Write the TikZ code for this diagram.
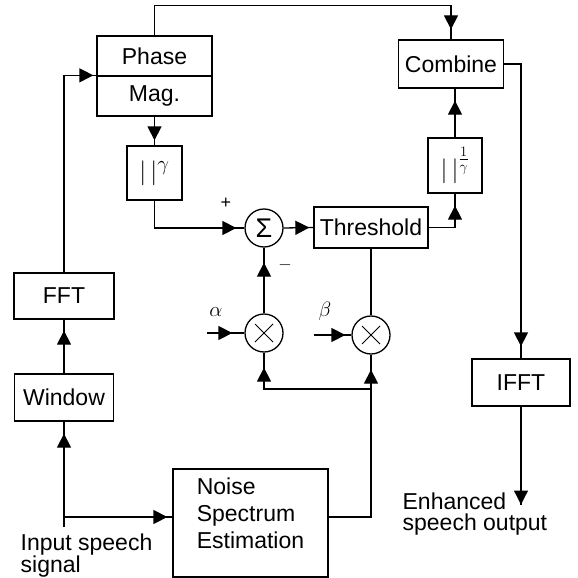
\documentclass[tikz,border=0pt]{standalone}
\usepackage{fontspec}
\setmainfont{Liberation Sans}
\usetikzlibrary{arrows.meta,decorations.markings}
\tikzset{
  blk/.style={draw,inner sep=0pt,font=\fontsize{23}{27}\selectfont},
  opnode/.style={draw,circle,minimum size=38pt,inner sep=0pt},
  mulnode/.style={opnode,path picture={
    \draw[line width=1pt] ([shift={(-9pt,-9pt)}]path picture bounding box.center) -- ([shift={(9pt,9pt)}]path picture bounding box.center)
      ([shift={(-9pt,9pt)}]path picture bounding box.center) -- ([shift={(9pt,-9pt)}]path picture bounding box.center);}},
  flowarr/.style={postaction={decorate},decoration={markings,
    mark=at position -#1 with {\arrow{Triangle[length=14pt,width=14pt]}}}},
  flowarr/.default=10pt,
  lbl/.style={font=\fontsize{23}{21}\selectfont,align=left,inner sep=0pt}
}

\begin{document}
\begin{tikzpicture}[x=1pt,y=-1pt,line width=1.3pt]
  \useasboundingbox (0,0) rectangle (578,578);
  % blocks
  \node[blk,minimum width=115pt,minimum height=40pt] (phase) at (154.5,56) {Phase};
  \node[blk,minimum width=115pt,minimum height=40pt] (mag) at (154.5,96) {Mag.};
  \node[blk,minimum width=55pt,minimum height=54pt,font=\fontsize{30}{30}\selectfont] (pw) at (154.5,173) {$|\,|^{\gamma}$};
  \node[blk,minimum width=114pt,minimum height=41pt] (thr) at (371,227.5) {Threshold};
  \node[blk,minimum width=54pt,minimum height=55pt,font=\fontsize{30}{30}\selectfont] (ipw) at (455,165.5) {$|\,|^{\frac{1}{\gamma}}$};
  \node[blk,minimum width=105pt,minimum height=48pt] (comb) at (451,64) {Combine};
  \node[blk,minimum width=98pt,minimum height=47pt] (ifft) at (521,382.5) {IFFT};
  \node[blk,minimum width=100pt,minimum height=46pt] (fft) at (64,296) {FFT};
  \node[blk,minimum width=99pt,minimum height=47pt] (win) at (64,397.5) {Window};
  \node[blk,minimum width=155pt,minimum height=108pt,align=left,text depth=19pt] (noise) at (250.5,523) {Noise\\Spectrum\\Estimation};
  % sum and products
  \node[opnode,font=\fontsize{27}{27}\selectfont] (sum) at (264,228) {Σ};
  \node[mulnode] (mula) at (264,333) {};
  \node[mulnode] (mulb) at (371,335) {};
  % free ends
  \coordinate (insig) at (64,527);
  \coordinate (split) at (64,517);
  \coordinate (outsig) at (521,505);
  \coordinate (ain) at (207,333);
  \coordinate (bin) at (314,335);
  \coordinate (bus) at (371,389);
  % labels
  \node[lbl,anchor=north west] (intxt) at (20,533) {Input speech\\signal};
  \node[lbl,anchor=north west] (outtxt) at (402,492) {Enhanced\\speech output};
  \node[font=\fontsize{20}{20}\selectfont] (alab) at (216,312) {$\alpha$};
  \node[font=\fontsize{20}{20}\selectfont] (blab) at (325,311) {$\beta$};
  \node[font=\fontsize{18}{18}\selectfont] (plus) at (226,203) {+};
  \node[font=\fontsize{18}{18}\selectfont] (minus) at (285,265) {$-$};
  % connectors
  \draw[flowarr=3pt] (fft.north) |- (mag.north west);
  \draw[flowarr=10pt] (phase.north) -- ++(0,-30) -| (comb.north);
  \draw[flowarr=12pt] (comb.east) -| (ifft.north);
  \draw[flowarr=0.5pt] (ifft.south) -- (outsig);
  \draw[flowarr=5pt] (mag.south) -- (pw.north);
  \draw[flowarr=8pt] (pw.south) |- (sum.west);
  \draw[flowarr=4pt] (sum.east) -- (thr.west);
  \draw[flowarr=12pt] (thr.east) -| (ipw.south);
  \draw[flowarr=12pt] (ipw.north) -- (ipw.north |- comb.south);
  \draw (thr.south) -- (mulb.north);
  \draw[flowarr=15pt] (mula.north) -- (sum.south);
  \draw[flowarr=12pt] (ain) -- (mula.west);
  \draw[flowarr=6pt] (bin) -- (mulb.west);
  \draw[flowarr=15pt] ([yshift=6pt]noise.east) -| (mulb.south);
  \draw[flowarr=15pt] (bus) -| (mula.south);
  \draw[flowarr=12pt] (insig) -- (win.south);
  \draw[flowarr=11pt] (win.north) -- (fft.south);
  \draw[flowarr=5pt] (split) -- (split -| noise.west);
\end{tikzpicture}
\end{document}
